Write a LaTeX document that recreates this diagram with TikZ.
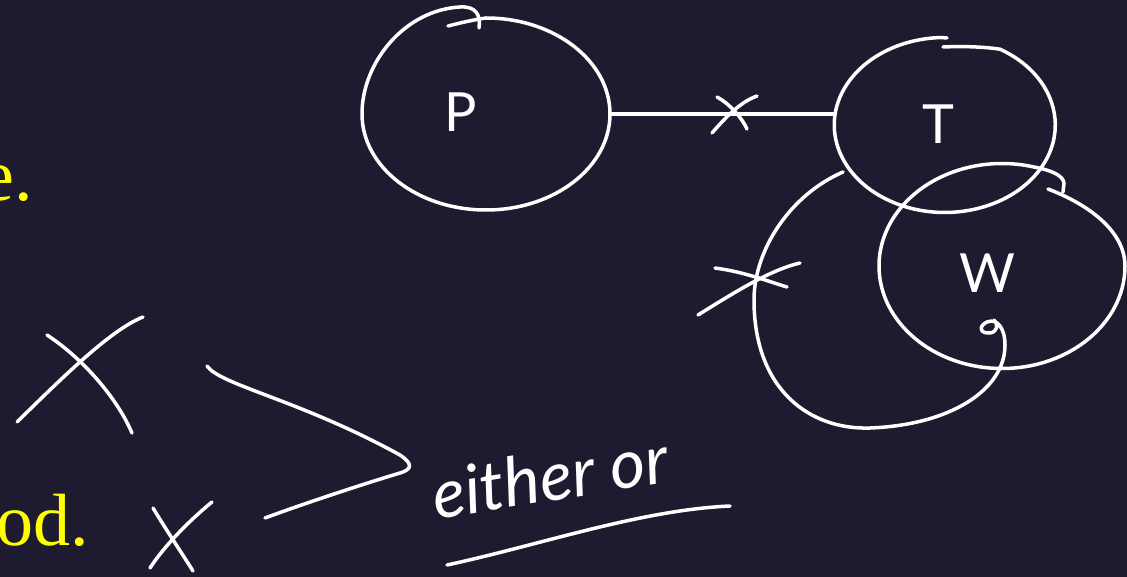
\documentclass[tikz,border=0pt]{standalone}
\usepackage{fontspec}
\setmainfont{Liberation Serif}
\newfontfamily\hand{Lato}
\usetikzlibrary{shapes.geometric}
\definecolor{bg}{RGB}{30,26,48}
\definecolor{txtyellow}{RGB}{255,255,0}
\begin{document}
\begin{tikzpicture}[x=1pt,y=-1pt,
  ink/.style={draw=white,line width=3.5pt,line cap=round,line join=round},
  ring/.style={ellipse,inner sep=0pt,outer sep=0pt},
  letter/.style={text=white,font=\hand\fontsize{54}{60}\selectfont,inner sep=0pt},
  yellowtext/.style={text=txtyellow,font=\fontsize{74}{80}\selectfont,inner sep=0pt}]
\fill[bg] (0,0) rectangle (1127,577);
\useasboundingbox (0,0) rectangle (1127,577);

% yellow text cut at left edge
\node[yellowtext,anchor=base east] (e) at (33,201) {e.};
\node[yellowtext,anchor=base east] (od) at (89,545) {od.};

% P ring (hand drawn with hook at the top)
\node[ring,minimum width=248pt,minimum height=192pt] (Pc) at (486,114) {};
\draw[ink] (448,26) .. controls (460,23) and (472,20) .. (486,18)
  arc[start angle=270,end angle=540,x radius=124,y radius=96]
  .. controls (362,62) and (405,10) .. (460,7)
  .. controls (475,6) and (481,14) .. (479,28);
\node[letter] (P) at (461,112) {P};

% T ring
\node[ring,minimum width=221pt,minimum height=175pt] (Tc) at (945,125) {};
\draw[ink] (943,47) .. controls (965,46) and (985,47) .. (1000,49.2)
  arc[start angle=-60,end angle=268,x radius=110.5,y radius=87.5]
  -- (947,38);
\node[letter] (T) at (938,124) {T};

% W ring
\node[ring,minimum width=246pt,minimum height=205pt] (Wc) at (1002,266) {};
\draw[ink] (1048,189) .. controls (1090,205) and (1125,232) .. (1125,266)
  arc[start angle=0,end angle=285,x radius=123,y radius=102.5]
  .. controls (1050,170) and (1063,175) .. (1064,183) -- (1063,192);
\node[letter] (W) at (987,273) {W};

% connector P -- T with cross
\draw[ink] (Pc.east) -- (Pc.east -| Tc.west);
\draw[ink] (712,133) .. controls (725,118) and (740,102) .. (757,96);
\draw[ink] (717,97) .. controls (730,104) and (742,118) .. (747,129);

% big loop around W
\draw[ink] (843,172) .. controls (790,195) and (754,250) .. (754,300)
  .. controls (754,390) and (810,430) .. (870,428)
  .. controls (950,425) and (1005,390) .. (1005,345)
  .. controls (1005,328) and (997,318) .. (987,322)
  .. controls (978,326) and (980,334) .. (990,333)
  .. controls (997,332) and (999,325) .. (994,320);
\draw[ink] (698,315) .. controls (735,292) and (770,270) .. (800,263);
\draw[ink] (715,268) .. controls (745,272) and (770,282) .. (787,287);

% left crosses
\draw[ink] (17,422) .. controls (60,380) and (110,330) .. (143,317);
\draw[ink] (47,335) .. controls (85,360) and (118,400) .. (132,433);
\draw[ink] (153,508) .. controls (165,528) and (183,555) .. (193,571);
\draw[ink] (212,502) .. controls (190,520) and (165,545) .. (150,568);

% brace-like angle
\draw[ink] (207,366) .. controls (220,385) and (300,400) .. (400,455)
  .. controls (415,465) and (410,470) .. (400,473)
  .. controls (360,485) and (300,505) .. (265,518);

% either or
\node[text=white,font=\hand\itshape\fontsize{68}{74}\selectfont,rotate=9,inner sep=0pt] (eo) at (550,476) {either or};
\draw[ink] (447,565) .. controls (540,545) and (640,510) .. (730,506);
\end{tikzpicture}
\end{document}
